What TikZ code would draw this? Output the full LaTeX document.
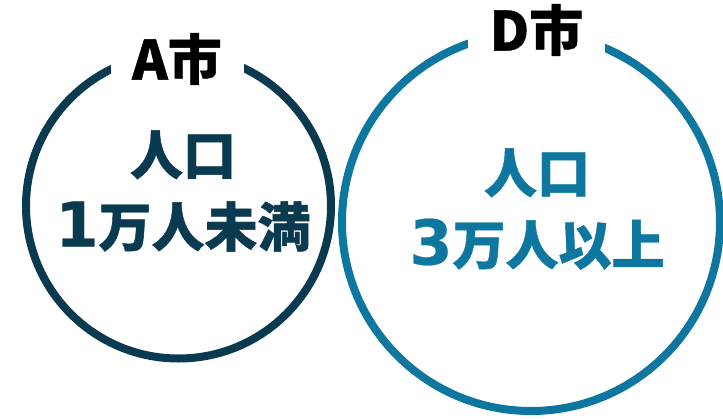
\documentclass[tikz,border=0pt]{standalone}
\usepackage{fontspec}
\newfontfamily\jp{Noto Sans CJK JP}[BoldFeatures={FakeBold=0.8}]
\newfontfamily\djfont{DejaVu Sans}[BoldFeatures={FakeBold=0.4}]
\newcommand\bigdig[1]{{\djfont\bfseries\fontsize{62}{72}\selectfont #1}}
\definecolor{anavy}{HTML}{093A4F}
\definecolor{dteal}{HTML}{0D77A0}
\tikzset{
  ring/.style={line width=8pt},
  citylabel/.style={fill=white, inner sep=0pt, minimum height=44pt, font=\jp\bfseries\fontsize{54}{54}\selectfont, text=black},
  bodytext/.style={align=center, font=\jp\bfseries\fontsize{53}{72}\selectfont}
}
\begin{document}
\begin{tikzpicture}[x=1pt,y=-1pt]
\useasboundingbox (0,0) rectangle (723,418);
\draw[ring, anavy] (178.5,206) circle[radius=152.5];
\draw[ring, dteal] (531,222) circle[radius=189];
\node[citylabel, minimum width=133pt] (la) at (177,59) {A市};
\node[citylabel, minimum width=137pt] (ld) at (536.5,30) {D市};
\node[bodytext, text=anavy] (ta) at (183,191) {人口\\\bigdig{1}万人未満};
\node[bodytext, text=dteal] (td) at (537,209) {人口\\\bigdig{3}万人以上};
\end{tikzpicture}
\end{document}
